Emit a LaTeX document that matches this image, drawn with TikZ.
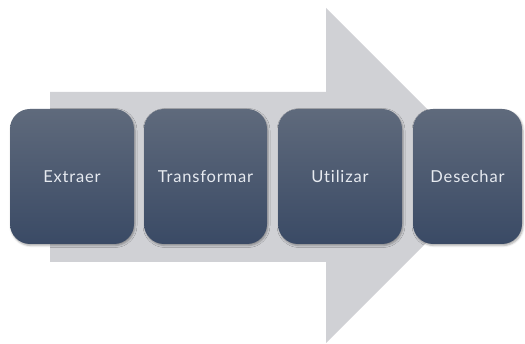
\documentclass[tikz,border=0pt]{standalone}
\usepackage{fontspec}
\setmainfont{Lato}[LetterSpace=5,Ligatures={NoCommon}]
\usetikzlibrary{shadows.blur}
\definecolor{arrowgray}{HTML}{D0D1D5}
\definecolor{boxtop}{HTML}{5F6A7C}
\definecolor{boxbot}{HTML}{3A4A65}
\definecolor{boxtext}{HTML}{E6EAF0}
\begin{document}
\begin{tikzpicture}[x=1pt,y=-1pt,
  stepbox/.style={rounded corners=20pt, top color=boxtop, bottom color=boxbot,
    minimum height=135pt, inner sep=0pt, text=boxtext, font=\fontsize{16.5}{20}\selectfont,
    blur shadow={shadow xshift=1pt, shadow yshift=-1.5pt, shadow blur radius=2pt, shadow opacity=35}}]
\useasboundingbox (0,0) rectangle (525,344);
\fill[arrowgray] (50,92) -- (326,92) -- (326,8) -- (493.5,175.5) -- (326,343) -- (326,262) -- (50,262) -- cycle;
\node[stepbox, minimum width=124pt] (a) at (72,176.5) {Extraer};
\node[stepbox, minimum width=123pt] (b) at (205.5,176.5) {Transformar};
\node[stepbox, minimum width=124pt] (c) at (340,176.5) {Utilizar};
\node[stepbox, minimum width=109pt] (d) at (467.5,176.5) {Desechar};
\end{tikzpicture}
\end{document}
